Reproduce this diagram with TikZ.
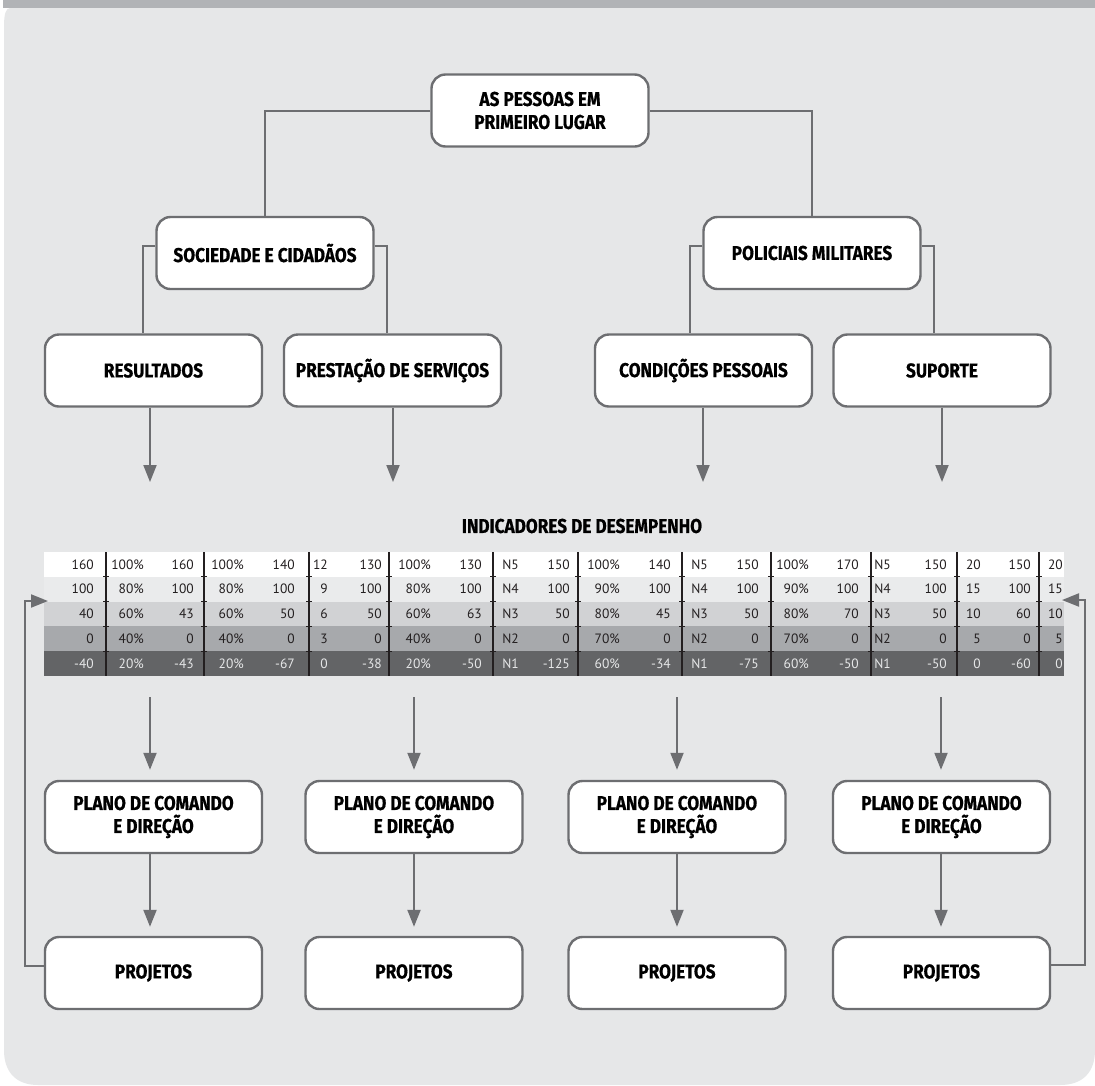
\documentclass[tikz,border=0pt]{standalone}
\usepackage{fontspec}
\setmainfont{PT Sans}
\newfontfamily\hfont[FakeStretch=0.86,FakeBold=0.6]{Fira Sans}
\usetikzlibrary{arrows.meta,calc}
\definecolor{band}{HTML}{B1B3B6}
\definecolor{panel}{HTML}{E6E7E8}
\definecolor{linegray}{HTML}{6D6E71}
\definecolor{rowA}{HTML}{FFFFFF}
\definecolor{rowB}{HTML}{EAEBEC}
\definecolor{rowC}{HTML}{D1D2D4}
\definecolor{rowD}{HTML}{A7A9AC}
\definecolor{rowE}{HTML}{636466}
\definecolor{ink}{HTML}{231F20}
\definecolor{lightink}{HTML}{E6E7E8}
\begin{document}
\begin{tikzpicture}[x=1pt,y=-1pt,
  box/.style={draw=linegray, line width=2.4pt, fill=white, rounded corners=14pt,
    minimum width=217pt, minimum height=72pt, align=center, inner sep=0pt,
    font=\hfont\bfseries\fontsize{20}{23}\selectfont, text=black},
  heading/.style={font=\hfont\bfseries\fontsize{20}{23}\selectfont, text=black, inner sep=0pt},
  link/.style={draw=linegray, line width=2pt},
  arr/.style={link, -{Triangle[width=13pt,length=17pt]}},
  cell/.style={anchor=east, inner sep=0pt, font=\fontsize{13.5}{16}\selectfont}]

% page and panel
\useasboundingbox (0,0) rectangle (1095,1085);
\fill[white] (0,0) rectangle (1095,1085);
\fill[band] (3,0) rectangle (1095,8);
\fill[panel] (10,8) -- (1095,8) -- (1095,1050)
  .. controls (1095,1072) and (1083,1085) .. (1060,1085) -- (38,1085)
  .. controls (16,1085) and (4,1072) .. (4,1050) -- (4,26)
  .. controls (4,14) and (6,8) .. (10,8) -- cycle;

% indicator table: row bands
\foreach \c [count=\i] in {rowA,rowB,rowC,rowD,rowE}
  \fill[\c] (44,{552+(\i-1)*24.8}) rectangle (1064,{552+\i*24.8});

% column separators with ticks at the row borders
\foreach \x in {106,204,309,389,493,578,682,771,871,957,1039} {
  \draw[ink, line width=1.5pt] (\x,552) -- (\x,676);
  \foreach \k in {1,...,4}
    \draw[ink, line width=0.8pt] (\x-3,{552+\k*24.8}) -- (\x+3,{552+\k*24.8});
}

% table values
\foreach \row/\tc [count=\i] in {
  {160,100\%,160,100\%,140,12,130,100\%,130,N5,150,100\%,140,N5,150,100\%,170,N5,150,20,150,20}/ink,
  {100,80\%,100,80\%,100,9,100,80\%,100,N4,100,90\%,100,N4,100,90\%,100,N4,100,15,100,15}/ink,
  {40,60\%,43,60\%,50,6,50,60\%,63,N3,50,80\%,45,N3,50,80\%,70,N3,50,10,60,10}/ink,
  {0,40\%,0,40\%,0,3,0,40\%,0,N2,0,70\%,0,N2,0,70\%,0,N2,0,5,0,5}/ink,
  {-40,20\%,-43,20\%,-67,0,-38,20\%,-50,N1,-125,60\%,-34,N1,-75,60\%,-50,N1,-50,0,-60,0}/lightink} {
  \foreach \v [count=\j] in \row {
    \pgfmathparse{{94,144,194,244,295,328,382,431,482,519,570,620,671,708,759,809,859,891,947,981,1031,1063}[\j-1]}
    \edef\cx{\pgfmathresult}
    \node[cell, text=\tc] (v-\i-\j) at (\cx,{552+(\i-0.5)*24.8}) {\v};
  }
}

% boxes
\node[box] (top) at (540,110.5) {AS PESSOAS EM\\PRIMEIRO LUGAR};
\node[box] (soc) at (265,253) {SOCIEDADE E CIDADÃOS};
\node[box] (pol) at (812,253) {POLICIAIS MILITARES};
\node[box] (res) at (153.5,370.5) {RESULTADOS};
\node[box] (pre) at (392.5,370.5) {PRESTAÇÃO DE SERVIÇOS};
\node[box] (con) at (703.5,370.5) {CONDIÇÕES PESSOAIS};
\node[box] (sup) at (942,370.5) {SUPORTE};
\node[heading] (title) at (582,526) {INDICADORES DE DESEMPENHO};

\foreach \x [count=\i] in {153.5,414,677,941.5} {
  \node[box] (plano\i) at (\x,817) {PLANO DE COMANDO\\E DIREÇÃO};
  \node[box] (proj\i) at (\x,973) {PROJETOS};
}

% tree connectors
\draw[link] (top.west) -| (soc.north);
\draw[link] (top.east) -| (pol.north);
\draw[link] ($(soc.west)+(0,-7)$) -| ($(res.north)+(-10.5,0)$);
\draw[link] ($(soc.east)+(0,-7)$) -| ($(pre.north)+(-5.5,0)$);
\draw[link] ($(pol.west)+(0,-7)$) -| ($(con.north)+(-13.5,0)$);
\draw[link] ($(pol.east)+(0,-7)$) -| ($(sup.north)+(-8,0)$);

% arrows into the indicator table
\coordinate (a1) at (150,482);
\coordinate (a2) at (393,482);
\coordinate (a3) at (703,482);
\coordinate (a4) at (942,482);
\draw[arr] (res.south -| a1) -- (a1);
\draw[arr] (pre.south -| a2) -- (a2);
\draw[arr] (con.south -| a3) -- (a3);
\draw[arr] (sup.south -| a4) -- (a4);

% arrows from the table to the command plans, and on to the projects
\coordinate (b1) at (150,697);
\coordinate (b2) at (414,697);
\coordinate (b3) at (677,697);
\coordinate (b4) at (941,697);
\foreach \i in {1,...,4} {
  \draw[arr, shorten >=10pt] (b\i) -- (b\i |- plano\i.north);
  \draw[arr, shorten >=9pt] (plano\i.south -| b\i) -- (proj\i.north -| b\i);
}

% feedback loops back to the table
\coordinate (f1) at (48,601);
\coordinate (f2) at (1062,600);
\draw[arr] ($(proj1.west)+(0,-7)$) -- ++(-19,0) |- (f1);
\draw[arr] ($(proj4.east)+(0,-8)$) -- ++(33.5,0) |- (f2);
\end{tikzpicture}
\end{document}
